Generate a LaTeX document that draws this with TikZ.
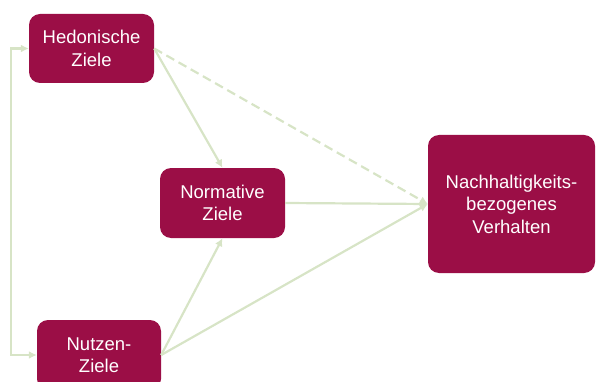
\documentclass[tikz,border=0pt]{standalone}
\usepackage{fontspec}
\setmainfont{Liberation Sans}
\usetikzlibrary{arrows.meta}
\definecolor{boxfill}{RGB}{155,14,70}
\definecolor{linegreen}{RGB}{215,228,198}
\begin{document}
\begin{tikzpicture}[x=1pt,y=-1pt,
  box/.style={draw=none,fill=boxfill,rounded corners=11pt,text=white,align=center,
    font=\fontsize{18.5}{22.5}\selectfont,inner sep=0pt},
  conn/.style={draw=linegreen,line width=2.2pt,-{Latex[length=8pt,width=8pt]}},
  dconn/.style={conn,dash pattern=on 9pt off 5pt}]
\useasboundingbox (0,0) rectangle (596,382);
\node[box,minimum width=125pt,minimum height=69pt] (H) at (91.5,48.5) {Hedonische\\Ziele};
\node[box,minimum width=125pt,minimum height=70pt] (N) at (222.5,203) {Normative\\Ziele};
\node[box,minimum width=124pt,minimum height=70pt] (U) at (99,355) {Nutzen-\\Ziele};
\node[box,minimum width=167pt,minimum height=138pt] (V) at (511.5,204) {Nachhaltigkeits-\\bezogenes\\Verhalten};
\coordinate (L) at (11,0);
\draw[conn] (H.east) -- (N.north);
\draw[dconn] (H.east) -- (V.west);
\draw[conn] (N.east) -- (V.west);
\draw[conn] (U.east) -- (N.south);
\draw[conn] (U.east) -- (V.west);
\draw[conn,{Latex[length=8pt,width=8pt]}-{Latex[length=8pt,width=8pt]}] (U.west) -- (U.west -| L) |- (H.west);
\end{tikzpicture}
\end{document}
